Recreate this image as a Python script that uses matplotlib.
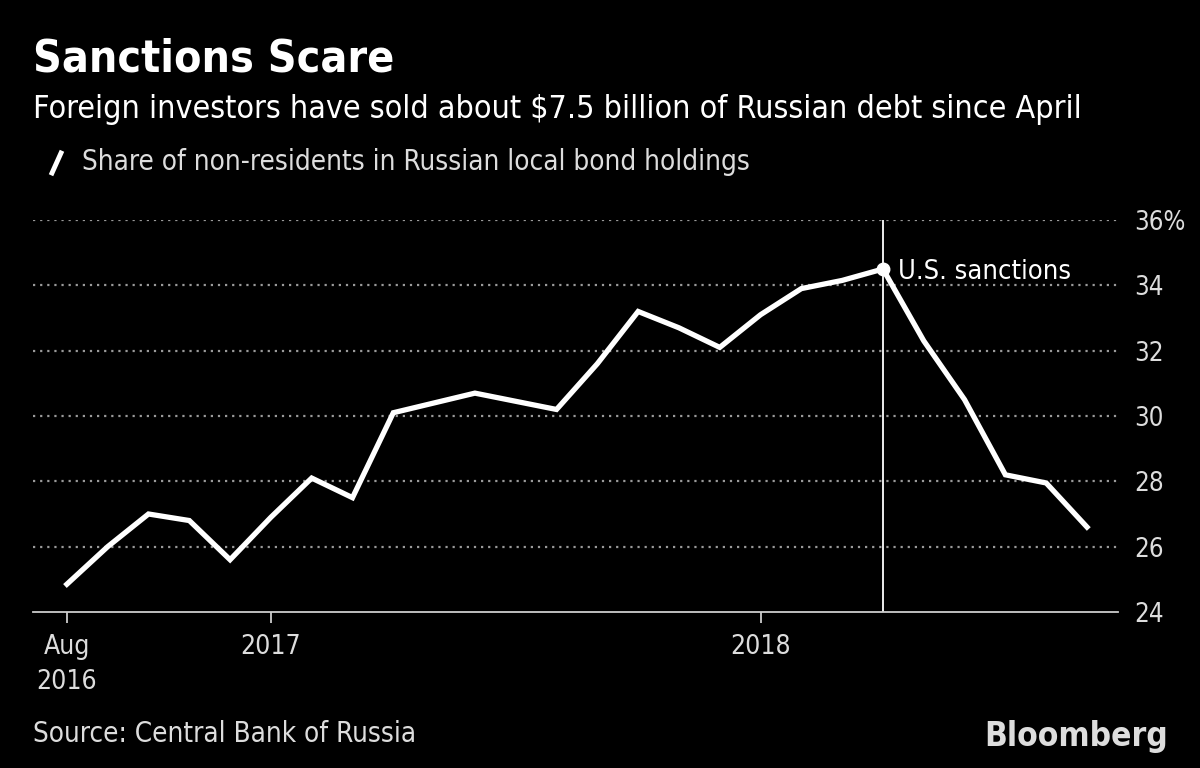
import matplotlib.pyplot as plt

# Share of non-residents in Russian local bond holdings, monthly Aug 2016 - Sep 2018
months = ['2016-08', '2016-09', '2016-10', '2016-11', '2016-12',
          '2017-01', '2017-02', '2017-03', '2017-04', '2017-05', '2017-06',
          '2017-07', '2017-08', '2017-09', '2017-10', '2017-11', '2017-12',
          '2018-01', '2018-02', '2018-03', '2018-04', '2018-05', '2018-06',
          '2018-07', '2018-08', '2018-09']
share = [24.85, 26.0, 27.0, 26.8, 25.6,
         26.9, 28.1, 27.5, 30.1, 30.4, 30.7,
         30.45, 30.2, 31.6, 33.2, 32.7, 32.1,
         33.1, 33.9, 34.15, 34.5, 32.3, 30.5,
         28.2, 27.95, 26.6]
y_ticks = [24, 26, 28, 30, 32, 34, 36]
y_labels = ['24', '26', '28', '30', '32', '34', '36%']
x_tick_months = ['2016-08', '2017-01', '2018-01']
x_tick_labels = ['Aug\n2016', '2017', '2018']
event_month = '2018-04'
event_label = 'U.S. sanctions'

plt.rcParams['font.family'] = ['DejaVu Sans']
plt.rcParams['font.stretch'] = 'condensed'

x = list(range(len(months)))
fig = plt.figure(figsize=(12, 7.68), dpi=100, facecolor='black')
ax = fig.add_axes([33 / 1200, 156 / 768, 1085 / 1200, 392 / 768], facecolor='black')

# dotted gridlines (not at baseline)
for v in y_ticks[1:]:
    ax.axhline(v, color='#9a9a9a', lw=1.6, ls=(0, (1, 2.2)), zorder=1)

ev = months.index(event_month)
ax.axvline(ev, color='white', lw=1.3, zorder=2)

ax.plot(x, share, color='white', lw=3.8, solid_joinstyle='miter', zorder=3)
ax.plot([ev], [share[ev]], 'o', color='white', ms=9, zorder=4)
ax.annotate(event_label, (ev, share[ev]), xytext=(11, -2), textcoords='offset points',
            color='white', fontsize=19.5, va='center', ha='left')

ax.set_xlim(-0.83, 25.76)
ax.set_ylim(24, 36)
ax.set_yticks(y_ticks)
ax.set_yticklabels(y_labels)
ax.set_xticks([months.index(m) for m in x_tick_months])
ax.set_xticklabels(x_tick_labels, linespacing=1.45)

ax.yaxis.tick_right()
ax.tick_params(axis='y', length=0, pad=12, labelsize=18.5, labelcolor='#dddddd')
ax.tick_params(axis='x', length=8, width=1.3, color='#cccccc', pad=8,
               labelsize=19, labelcolor='#dddddd')

for s in ['top', 'left', 'right']:
    ax.spines[s].set_visible(False)
ax.spines['bottom'].set_color('#cccccc')
ax.spines['bottom'].set_linewidth(1.3)

fig.text(33 / 1200, 1 - 72 / 768, 'Sanctions Scare', color='white', fontsize=32,
         fontweight='bold')
fig.text(33 / 1200, 1 - 118 / 768,
         'Foreign investors have sold about $7.5 billion of Russian debt since April',
         color='white', fontsize=23)
fig.lines.append(plt.Line2D([52 / 1200, 61 / 1200], [1 - 173 / 768, 1 - 153 / 768],
                            color='white', lw=3.5, transform=fig.transFigure))
fig.text(82 / 1200, 1 - 170 / 768, 'Share of non-residents in Russian local bond holdings',
         color='#dddddd', fontsize=20)
fig.text(33 / 1200, 1 - 742 / 768, 'Source: Central Bank of Russia',
         color='#dddddd', fontsize=20)
fig.text(1168 / 1200, 1 - 746 / 768, 'Bloomberg', color='#dddddd', fontsize=24,
         fontweight='bold', ha='right')

fig.savefig('out.png', dpi=100, facecolor='black')
